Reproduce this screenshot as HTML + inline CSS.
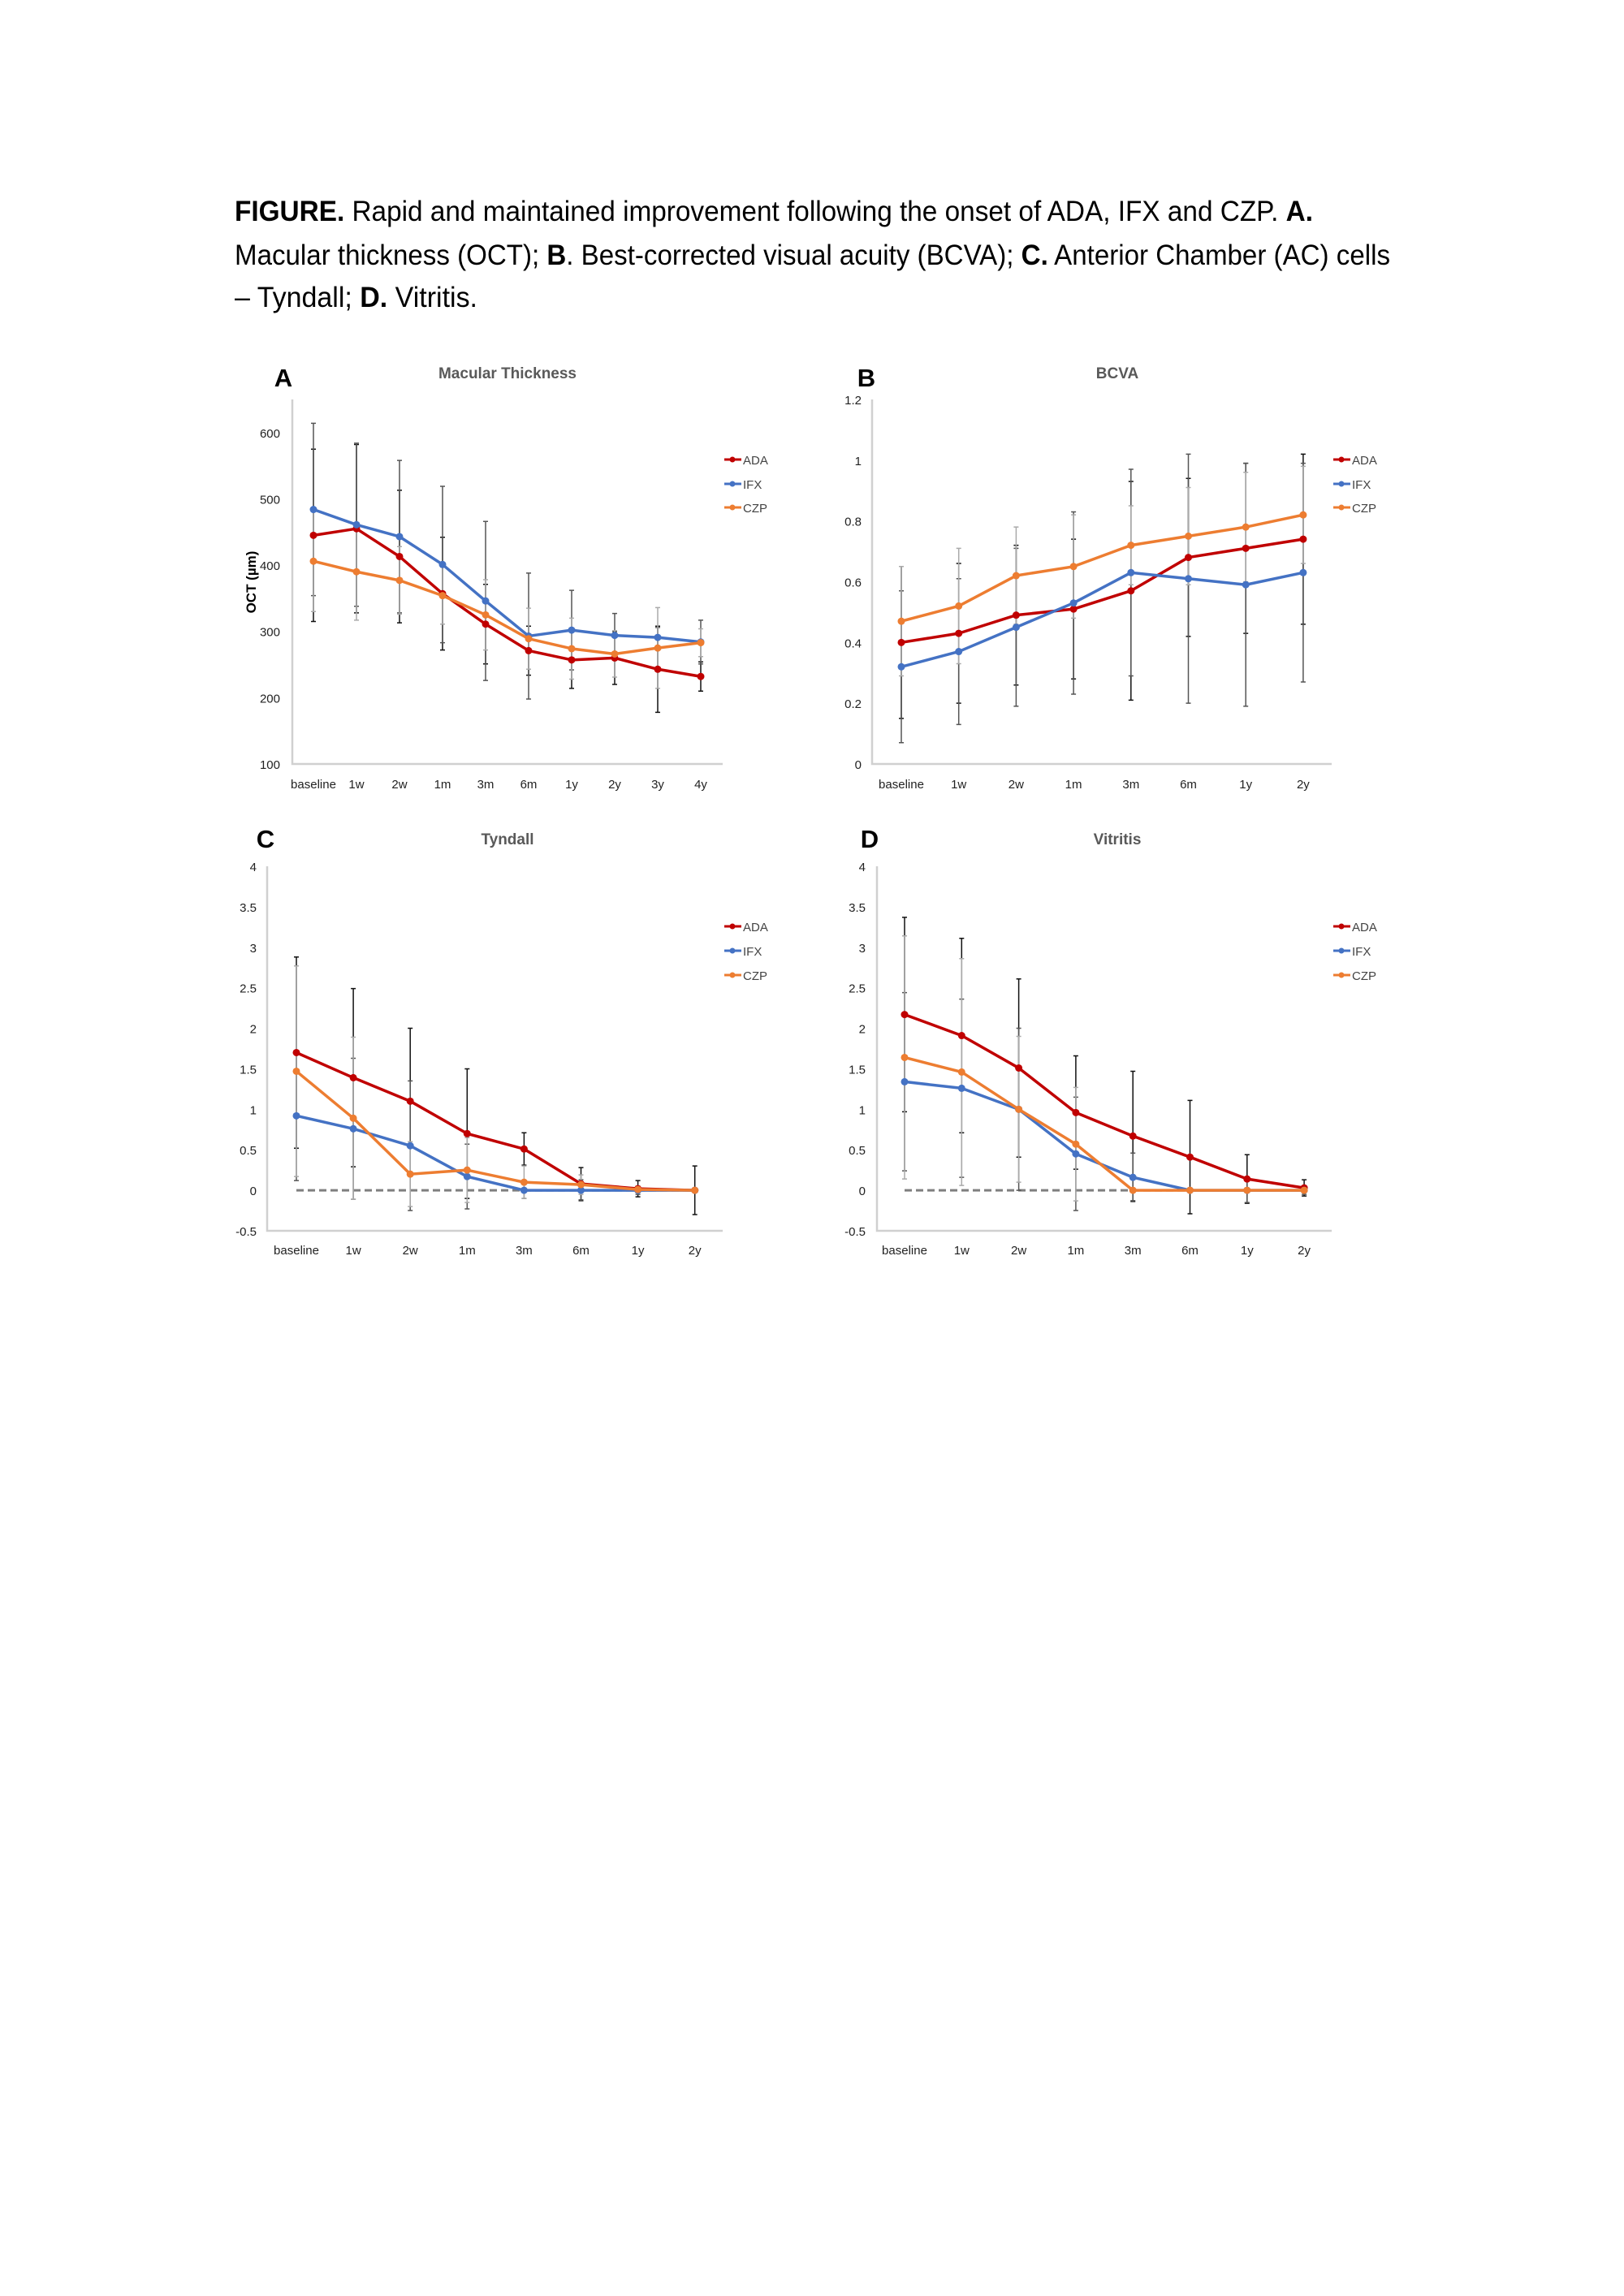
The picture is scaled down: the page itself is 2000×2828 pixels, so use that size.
<!DOCTYPE html>
<html><head><meta charset="utf-8"><style>
html,body{margin:0;padding:0;background:#fff;}
svg{display:block;}
text{font-family:"Liberation Sans",sans-serif;}
</style></head><body>
<svg id="fig" width="2000" height="2828" viewBox="0 0 2000 2828">
<g font-size="35" fill="#000">
<text x="289" y="272" textLength="1328" lengthAdjust="spacingAndGlyphs"><tspan font-weight="bold">FIGURE.</tspan> Rapid and maintained improvement following the onset of ADA, IFX and CZP. <tspan font-weight="bold">A.</tspan></text>
<text x="289" y="326" textLength="1423" lengthAdjust="spacingAndGlyphs">Macular thickness (OCT); <tspan font-weight="bold">B</tspan>. Best-corrected visual acuity (BCVA); <tspan font-weight="bold">C.</tspan> Anterior Chamber (AC) cells</text>
<text x="289" y="378" textLength="299" lengthAdjust="spacingAndGlyphs">– Tyndall; <tspan font-weight="bold">D.</tspan> Vitritis.</text>
</g>
</svg>
<script>
const catsLong = ["baseline","1w","2w","1m","3m","6m","1y","2y","3y","4y"];
const catsShort = ["baseline","1w","2w","1m","3m","6m","1y","2y"];
const seriesNames = ["ADA","IFX","CZP"];
const ticksA = [100,200,300,400,500,600];
const ticksB = [0,0.2,0.4,0.6,0.8,1,1.2];
const ticksCD = [-0.5,0,0.5,1,1.5,2,2.5,3,3.5,4];

const aADA = [445,455,413,357,311,271,257,260,243,232];
const aIFX = [484,461,443,401,346,293,302,294,291,284];
const aCZP = [406,390,377,354,325,289,274,266,275,283];
const aErrADA = [130,127,100,85,60,37,43,40,65,22];
const aErrIFX = [130,123,115,118,120,95,60,33,15,33];
const aErrCZP = [76,73,51,43,53,46,46,35,61,21];

const bADA = [0.40,0.43,0.49,0.51,0.57,0.68,0.71,0.74];
const bIFX = [0.32,0.37,0.45,0.53,0.63,0.61,0.59,0.63];
const bCZP = [0.47,0.52,0.62,0.65,0.72,0.75,0.78,0.82];
const bErrADA = [0.25,0.23,0.23,0.23,0.36,0.26,0.28,0.28];
const bErrIFX = [0.25,0.24,0.26,0.30,0.34,0.41,0.40,0.36];
const bErrCZP = [0.18,0.19,0.16,0.17,0.13,0.16,0.18,0.16];

const cADA = [1.70,1.39,1.10,0.70,0.51,0.08,0.02,0];
const cIFX = [0.92,0.76,0.55,0.17,0,0,0,0];
const cCZP = [1.47,0.89,0.20,0.25,0.10,0.07,0.01,0];
const cErrADA = [1.18,1.1,0.9,0.8,0.2,0.2,0.1,0.3];
const cErrIFX = [0.8,0.87,0.8,0.4,0.1,0.13,0.05,0];
const cErrCZP = [1.3,1.0,0.4,0.4,0.2,0.12,0.04,0];

const dADA = [2.17,1.91,1.51,0.96,0.67,0.41,0.14,0.03];
const dIFX = [1.34,1.26,1.00,0.45,0.16,0,0,0];
const dCZP = [1.64,1.46,1.00,0.57,0,0,0,0];
const dErrADA = [1.2,1.2,1.1,0.7,0.8,0.7,0.3,0.1];
const dErrIFX = [1.1,1.1,1.0,0.7,0.3,0,0.15,0.05];
const dErrCZP = [1.5,1.4,0.9,0.7,0,0,0,0];

const NS="http://www.w3.org/2000/svg";
const svg=document.getElementById('fig');
const colors=["#c00000","#4472c4","#ed7d31"];
const errColors=["#111","#555","#aaa"];
function mk(tag,attrs,parent){const e=document.createElementNS(NS,tag);for(const k in attrs)e.setAttribute(k,attrs[k]);parent.appendChild(e);return e;}

function panel(p){
  const g=mk('g',{},svg);
  
  
  const y=v=>p.y0-(v-p.vmin)/(p.vmax-p.vmin)*(p.y0-p.y1);
  const x=i=>p.cx0+i*p.step;
  const letter=mk('text',{x:p.lx,y:p.ly,'font-size':31,'font-weight':'bold','text-anchor':'middle'},g);
  letter.textContent=p.id.toUpperCase();
  
  
  const title=mk('text',{x:p.tx,y:p.ty,'font-size':19,'font-weight':'bold',fill:'#595959','text-anchor':'middle'},g);
  title.textContent=p.title;
  
  
  const ax=mk('path',{d:`M${p.ax} ${p.y1}V${p.y0}H${p.axEnd}`,stroke:'#d0d0d0','stroke-width':2.5,fill:'none'},g);
  
  
  p.ticks.forEach(t=>{
    const tl=mk('text',{x:p.tickX,y:y(t)+6,'font-size':15,'text-anchor':'end',fill:'#222'},g);
    tl.textContent=String(t);
    
    
  });
  p.cats.forEach((c,i)=>{
    const cl=mk('text',{x:x(i),y:p.labY,'font-size':15,'text-anchor':'middle',fill:'#222'},g);
    cl.textContent=c;
    
    
  });
  if(p.zero){
    const z=mk('line',{x1:x(0),x2:x(p.cats.length-1),y1:y(0),y2:y(0),stroke:'#7f7f7f','stroke-width':3,'stroke-dasharray':'9 5'},g);
    
    
  }
  p.series.forEach((s,k)=>{
    s.forEach((v,i)=>{
      const e=p.errs[k][i]; if(!e) return;
      const eb=mk('path',{d:`M${x(i)} ${y(v+e)}V${y(v-e)}M${x(i)-3} ${y(v+e)}h6M${x(i)-3} ${y(v-e)}h6`,stroke:errColors[k],'stroke-width':1.5,fill:'none'},g);
      
      
    });
  });
  p.series.forEach((s,k)=>{
    const pl=mk('polyline',{points:s.map((v,i)=>x(i)+','+y(v)).join(' '),stroke:colors[k],'stroke-width':3.5,fill:'none','stroke-linejoin':'round'},g);
    
    
    s.forEach((v,i)=>{
      const c=mk('circle',{cx:x(i),cy:y(v),r:4.5,fill:colors[k]},g);
      
      
    });
    const ly=p.legY[k];
    const lg=mk('g',{},g);
    
    
    mk('line',{x1:p.legX,x2:p.legX+21,y1:ly,y2:ly,stroke:colors[k],'stroke-width':3},lg);
    mk('circle',{cx:p.legX+10,cy:ly,r:3.5,fill:colors[k]},lg);
    const lt=mk('text',{x:p.legX+23,y:ly+6,'font-size':15,fill:'#444'},lg);
    lt.textContent=seriesNames[k];
  });
  if(p.ylabel){
    const yl=mk('text',{x:0,y:0,'font-size':17,'font-weight':'bold','text-anchor':'middle',transform:`translate(${p.ylabel[1]},${p.ylabel[2]}) rotate(-90)`},g);
    yl.textContent=p.ylabel[0];
    
    
  }
}

panel({id:'a',title:'Macular Thickness',lx:349,ly:476,tx:625,ty:466,ax:360,axEnd:890,y0:941,y1:492,vmin:100,vmax:650,
  ticks:ticksA,tickX:345,cats:catsLong,cx0:386,step:53,labY:971,series:[aADA,aIFX,aCZP],errs:[aErrADA,aErrIFX,aErrCZP],
  legX:892,legY:[566,596,625],ylabel:['OCT (µm)',315,717]});
panel({id:'b',title:'BCVA',lx:1067,ly:476,tx:1376,ty:466,ax:1074,axEnd:1640,y0:941,y1:492,vmin:0,vmax:1.2,
  ticks:ticksB,tickX:1061,cats:catsShort,cx0:1110,step:70.7,labY:971,series:[bADA,bIFX,bCZP],errs:[bErrADA,bErrIFX,bErrCZP],
  legX:1642,legY:[566,596,625]});
panel({id:'c',title:'Tyndall',lx:327,ly:1044,tx:625,ty:1040,ax:329,axEnd:890,y0:1516,y1:1067,vmin:-0.5,vmax:4,zero:true,
  ticks:ticksCD,tickX:316,cats:catsShort,cx0:365,step:70.1,labY:1545,series:[cADA,cIFX,cCZP],errs:[cErrADA,cErrIFX,cErrCZP],
  legX:892,legY:[1141,1171,1201]});
panel({id:'d',title:'Vitritis',lx:1071,ly:1044,tx:1376,ty:1040,ax:1080,axEnd:1640,y0:1516,y1:1067,vmin:-0.5,vmax:4,zero:true,
  ticks:ticksCD,tickX:1066,cats:catsShort,cx0:1114,step:70.3,labY:1545,series:[dADA,dIFX,dCZP],errs:[dErrADA,dErrIFX,dErrCZP],
  legX:1642,legY:[1141,1171,1201]});
</script>
</body></html>
